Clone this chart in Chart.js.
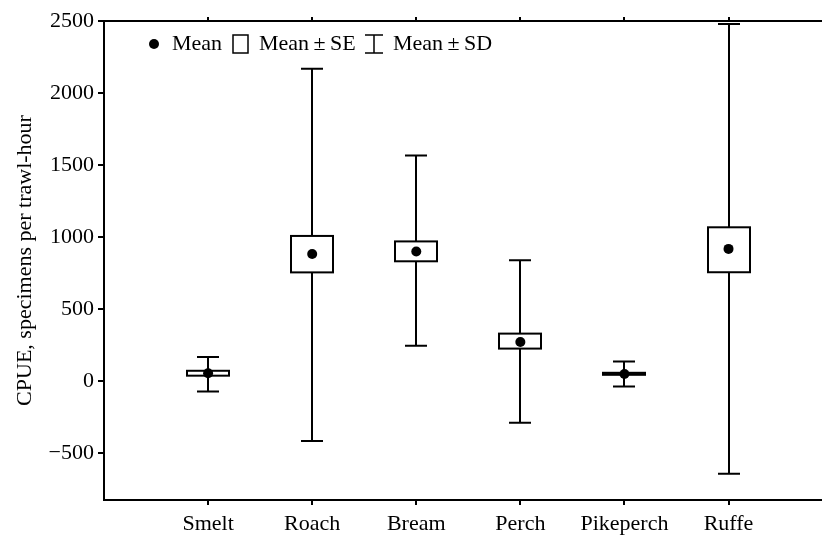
<!DOCTYPE html>
<html>
<head>
<meta charset="utf-8">
<script src="https://cdn.jsdelivr.net/npm/chart.js@4"></script>
<style>
  html, body { margin: 0; padding: 0; background: #fff; }
  #chart { display: block; }
</style>
</head>
<body>
<canvas id="chart" width="822" height="538"></canvas>
<script>
// fish species along the x axis
const categories = ['Smelt', 'Roach', 'Bream', 'Perch', 'Pikeperch', 'Ruffe'];
const means  = [55, 882, 900, 272, 50, 918];
const seLow  = [38, 755, 832, 226, 44, 756];
const seHigh = [72, 1008, 970, 330, 58, 1068];
const sdLow  = [-72, -415, 245, -288, -38, -642];
const sdHigh = [168, 2168, 1566, 840, 136, 2480];
const yTicks = [-500, 0, 500, 1000, 1500, 2000, 2500];

const FONT = '"Liberation Serif", "Times New Roman", serif';

// boxes (SE) and whiskers (SD), drawn under the mean dots
const boxPlugin = {
  id: 'boxes',
  beforeDatasetsDraw(chart) {
    const ctx = chart.ctx;
    const xs = chart.scales.x, ys = chart.scales.y;
    ctx.save();
    ctx.strokeStyle = '#000';
    ctx.lineWidth = 2;
    categories.forEach((c, i) => {
      const x = Math.round(xs.getPixelForValue(i + 1));
      const yHi = ys.getPixelForValue(sdHigh[i]);
      const yLo = ys.getPixelForValue(sdLow[i]);
      // whisker
      ctx.beginPath();
      ctx.moveTo(x, yHi); ctx.lineTo(x, yLo);
      ctx.moveTo(x - 11, yHi); ctx.lineTo(x + 11, yHi);
      ctx.moveTo(x - 11, yLo); ctx.lineTo(x + 11, yLo);
      ctx.stroke();
      // SE box
      const bTop = ys.getPixelForValue(seHigh[i]);
      const bBot = ys.getPixelForValue(seLow[i]);
      ctx.fillStyle = '#fff';
      ctx.fillRect(x - 21, bTop, 42, bBot - bTop);
      ctx.strokeRect(x - 21, bTop, 42, bBot - bTop);
    });
    ctx.restore();
  },
  afterDraw(chart) {
    const ctx = chart.ctx;
    const a = chart.chartArea;
    const xs = chart.scales.x;
    ctx.save();
    // top frame and bottom axis both run to the right edge
    ctx.strokeStyle = '#000';
    ctx.lineWidth = 2;
    ctx.beginPath();
    ctx.moveTo(a.left - 1, a.top); ctx.lineTo(chart.width, a.top);
    ctx.moveTo(a.left - 1, a.bottom); ctx.lineTo(chart.width, a.bottom);
    categories.forEach((c, i) => {
      const x = Math.round(xs.getPixelForValue(i + 1));
      ctx.moveTo(x, a.top); ctx.lineTo(x, a.top - 4);
    });
    ctx.stroke();

    // legend
    const ly = 44;
    ctx.fillStyle = '#000';
    ctx.beginPath();
    ctx.arc(154, ly, 5, 0, Math.PI * 2);
    ctx.fill();
    ctx.font = '22px ' + FONT;
    ctx.textBaseline = 'middle';
    ctx.fillText('Mean', 172, ly);
    ctx.lineWidth = 1.5;
    ctx.strokeRect(233, 35, 15, 18);
    ctx.fillText('Mean\u2009\u00b1\u2009SE', 259, ly);
    ctx.beginPath();
    ctx.moveTo(365, 35); ctx.lineTo(383, 35);
    ctx.moveTo(374, 35); ctx.lineTo(374, 53);
    ctx.moveTo(365, 53); ctx.lineTo(383, 53);
    ctx.stroke();
    ctx.fillText('Mean\u2009\u00b1\u2009SD', 393, ly);
    ctx.restore();
  }
};

new Chart(document.getElementById('chart'), {
  type: 'scatter',
  data: {
    datasets: [{
      label: 'Mean',
      data: means.map((m, i) => ({ x: i + 1, y: m })),
      pointRadius: 5,
      pointBackgroundColor: '#000',
      pointBorderColor: '#000',
      pointBorderWidth: 0
    }]
  },
  options: {
    responsive: false,
    animation: false,
    layout: { padding: { top: 21, right: 0, left: 12, bottom: 0 } },
    plugins: { legend: { display: false }, tooltip: { enabled: false } },
    scales: {
      x: {
        type: 'linear',
        min: 0,
        max: 6.85,
        afterBuildTicks: s => { s.ticks = categories.map((c, i) => ({ value: i + 1 })); },
        afterFit: s => { s.height = 38; },
        ticks: {
          callback: v => categories[v - 1],
          color: '#000',
          font: { family: FONT, size: 22 },
          padding: 6,
          maxRotation: 0
        },
        grid: { drawOnChartArea: false, drawTicks: true, tickLength: 5, color: '#000', lineWidth: 2 },
        border: { display: false }
      },
      y: {
        min: -825,
        max: 2500,
        afterBuildTicks: s => { s.ticks = yTicks.map(v => ({ value: v })); },
        afterFit: s => { s.width = 92; },
        ticks: {
          callback: v => (v < 0 ? '\u2212' + Math.abs(v) : String(v)),
          color: '#000',
          font: { family: FONT, size: 22 },
          padding: 4
        },
        grid: { drawOnChartArea: false, drawTicks: true, tickLength: 6, color: '#000', lineWidth: 2 },
        border: { display: true, color: '#000', width: 2 },
        title: {
          display: true,
          text: 'CPUE, specimens per trawl-hour',
          color: '#000',
          font: { family: FONT, size: 22 },
          padding: { top: 0, bottom: 0 }
        }
      }
    }
  },
  plugins: [boxPlugin]
});
</script>
</body>
</html>
